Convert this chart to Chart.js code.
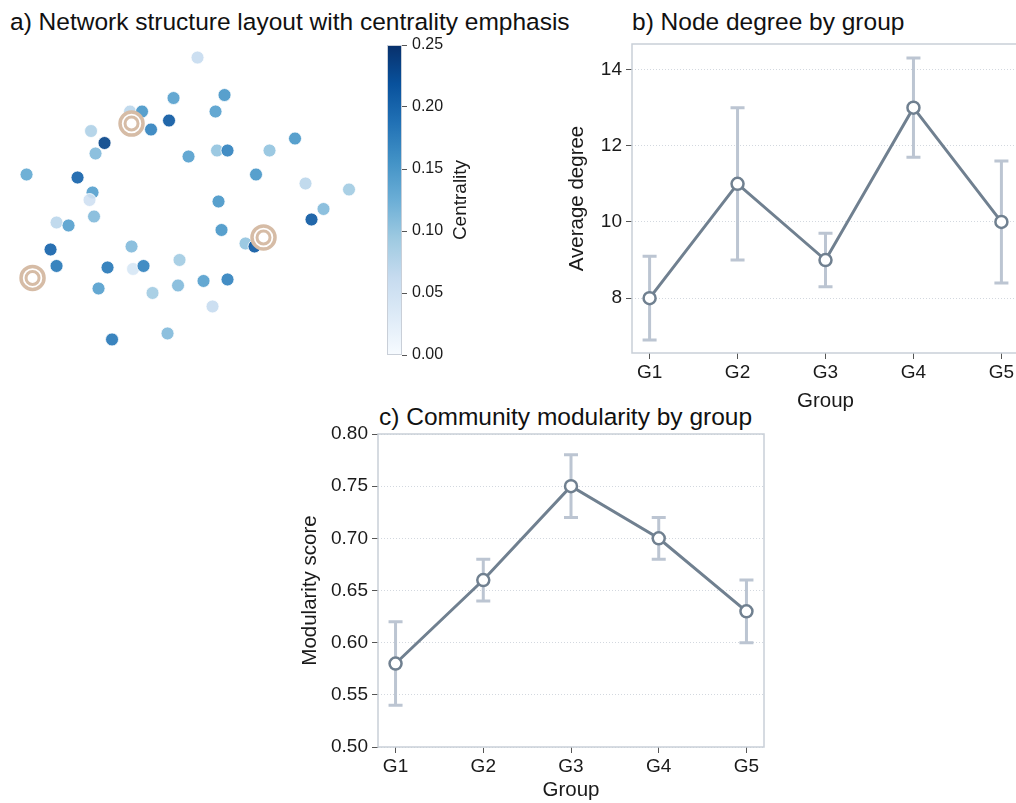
<!DOCTYPE html>
<html>
<head>
<meta charset="utf-8">
<script src="https://cdn.jsdelivr.net/npm/chart.js@4.4.0/dist/chart.umd.min.js"></script>
<style>
  html, body { margin: 0; padding: 0; background: #fff; width: 1016px; height: 803px; overflow: hidden; }
  .box { position: absolute; }
  .ttl { position: absolute; font: 24.5px "Liberation Sans", Arial, sans-serif; line-height: 24px; color: #111; white-space: nowrap; }
</style>
</head>
<body>
<div class="ttl" style="left:10px;top:10px">a) Network structure layout with centrality emphasis</div>
<div class="ttl" style="left:632px;top:10px">b) Node degree by group</div>
<div class="ttl" style="left:379px;top:405px">c) Community modularity by group</div>

<div class="box" style="left:0;top:0"><canvas id="net" width="370" height="380"></canvas></div>
<div class="box" style="left:380px;top:0"><canvas id="cbar" width="110" height="380"></canvas></div>
<div class="box" style="left:560px;top:40px"><canvas id="degree" width="470" height="380"></canvas></div>
<div class="box" style="left:290px;top:420px"><canvas id="modularity" width="490" height="383"></canvas></div>

<script>
(function () {

  // network layout (node positions + centrality)
  const nodeX = [0.05, -0.11, -0.40, -0.32, -0.26, -0.14, -0.66, -0.57, -0.63, -0.01,
                 -1.09, -0.75, -0.65, -0.67, 0.23, 0.17, 0.70, 0.18, 0.25, 0.53,
                 0.44, 0.77, 1.06, 0.19, -0.64, -0.89, -0.81, -0.93, -0.89, -0.55,
                 -0.39, -0.38, -0.31, -0.07, -0.08, -0.25, -0.61, 0.09, 0.25, 0.15,
                 -0.52, -0.15, 0.89, 0.81, 0.21, 0.37, 0.43];
  const nodeY = [0.95, 0.68, 0.59, 0.59, 0.47, 0.53, 0.46, 0.38, 0.31, 0.29,
                 0.17, 0.15, 0.05, 0.00, 0.70, 0.59, 0.41, 0.33, 0.33, 0.33,
                 0.17, 0.11, 0.07, -0.01, -0.11, -0.15, -0.17, -0.33, -0.44, -0.45,
                 -0.31, -0.46, -0.44, -0.40, -0.57, -0.62, -0.59, -0.54, -0.53, -0.71,
                 -0.93, -0.89, -0.06, -0.13, -0.20, -0.29, -0.31];
  const centrality = [0.06, 0.14, 0.07, 0.15, 0.17, 0.21, 0.08, 0.23, 0.11, 0.14,
                      0.13, 0.20, 0.14, 0.05, 0.15, 0.14, 0.15, 0.10, 0.17, 0.10,
                      0.15, 0.07, 0.09, 0.15, 0.11, 0.07, 0.14, 0.20, 0.18, 0.18,
                      0.11, 0.04, 0.17, 0.09, 0.11, 0.09, 0.14, 0.14, 0.17, 0.06,
                      0.18, 0.11, 0.11, 0.21, 0.15, 0.10, 0.21];
  const hubX = [-0.39, 0.49, -1.05];
  const hubY = [0.51, -0.25, -0.52];

  const cbarTicks = [0, 0.05, 0.10, 0.15, 0.20, 0.25];

  // group panels
  const groups = ['G1', 'G2', 'G3', 'G4', 'G5'];
  const degreeMean = [8, 11, 9, 13, 10];
  const degreeLow  = [6.9, 9.0, 8.3, 11.7, 8.4];
  const degreeHigh = [9.1, 13.0, 9.7, 14.3, 11.6];
  const degreeTicks = [8, 10, 12, 14];

  const modMean = [0.58, 0.66, 0.75, 0.70, 0.63];
  const modLow  = [0.54, 0.64, 0.72, 0.68, 0.60];
  const modHigh = [0.62, 0.68, 0.78, 0.72, 0.66];
  const modTicks = [0.50, 0.55, 0.60, 0.65, 0.70, 0.75, 0.80];

  const FONT = '"Liberation Sans", Arial, sans-serif';
  const INK = '#1a1a1a';
  const FRAME = '#c9cfd8';

  const BLUES = [[247,251,255],[222,235,247],[198,219,239],[158,202,225],[107,174,214],
                 [66,146,198],[33,113,181],[8,81,156],[8,48,107]];
  function blues(t, a) {
    t = Math.max(0, Math.min(1, t));
    const s = t * 8, i = Math.min(7, Math.floor(s)), f = s - i;
    const c = BLUES[i].map((v, k) => Math.round(v + (BLUES[i + 1][k] - v) * f));
    return `rgba(${c[0]},${c[1]},${c[2]},${a === undefined ? 1 : a})`;
  }

  // a) network scatter
  new Chart(document.getElementById('net'), {
    type: 'scatter',
    data: {
      datasets: [
        { data: hubX.map((x, i) => ({ x, y: hubY[i] })), pointRadius: 6.5,
          pointBackgroundColor: '#fff', pointBorderColor: '#d6bca6', pointBorderWidth: 3, clip: false },
        { data: hubX.map((x, i) => ({ x, y: hubY[i] })), pointRadius: 11.5,
          pointBackgroundColor: '#fff', pointBorderColor: '#d6bca6', pointBorderWidth: 3.5, clip: false },
        { data: nodeX.map((x, i) => ({ x, y: nodeY[i] })), pointRadius: 6.5,
          pointBackgroundColor: centrality.map(c => blues(c / 0.25, 0.92)),
          pointBorderColor: '#fff', pointBorderWidth: 0.8, clip: false }
      ]
    },
    options: {
      responsive: false, animation: false,
      layout: { autoPadding: false, padding: { top: 40, bottom: 20, left: 0, right: 0 } },
      scales: {
        x: { display: false, min: -1.267, max: 1.2 },
        y: { display: false, min: -1.067, max: 1.067 }
      },
      plugins: { legend: { display: false }, tooltip: { enabled: false } }
    }
  });

  // colorbar
  new Chart(document.getElementById('cbar'), {
    type: 'scatter',
    data: { datasets: [] },
    options: {
      responsive: false, animation: false,
      layout: { autoPadding: false, padding: { top: 45, bottom: 25, left: 7, right: 0 } },
      scales: {
        x: { display: false, min: 0, max: 1 },
        y: {
          position: 'right', min: 0, max: 0.25,
          afterBuildTicks: s => { s.ticks = cbarTicks.map(v => ({ value: v })); },
          afterFit: s => { s.width = 88; s.paddingTop = 0; s.paddingBottom = 0; },
          ticks: { callback: v => v.toFixed(2), font: { family: FONT, size: 16 }, color: INK, padding: 5 },
          grid: { drawOnChartArea: false, tickLength: 5, tickColor: '#555', tickWidth: 1 },
          border: { display: false }
        }
      },
      plugins: { legend: { display: false }, tooltip: { enabled: false } }
    },
    plugins: [{
      id: 'gradient',
      beforeDatasetsDraw(chart) {
        const { ctx, chartArea: a } = chart;
        const g = ctx.createLinearGradient(0, a.bottom, 0, a.top);
        BLUES.forEach((c, i) => g.addColorStop(i / 8, `rgb(${c[0]},${c[1]},${c[2]})`));
        ctx.save();
        ctx.fillStyle = g;
        ctx.fillRect(a.left, a.top, a.right - a.left, a.bottom - a.top);
        ctx.strokeStyle = FRAME;
        ctx.lineWidth = 1;
        ctx.strokeRect(a.left + 0.5, a.top + 0.5, a.right - a.left - 1, a.bottom - a.top - 1);
        ctx.translate(81, (a.top + a.bottom) / 2);
        ctx.rotate(-Math.PI / 2);
        ctx.font = '19px ' + FONT;
        ctx.fillStyle = INK;
        ctx.textAlign = 'center';
        ctx.textBaseline = 'middle';
        ctx.fillText('Centrality', 0, 0);
        ctx.restore();
      }
    }]
  });

  // b) and c) line charts with error bars
  function groupChart(id, mean, low, high, yMin, yMax, yTicks, dec, yTitle, L) {
    new Chart(document.getElementById(id), {
      type: 'line',
      data: {
        datasets: [{
          data: mean.map((v, i) => ({ x: i, y: v })),
          borderColor: '#708090', borderWidth: 3,
          pointRadius: 6, pointBackgroundColor: '#fff',
          pointBorderColor: '#708090', pointBorderWidth: 2.5,
          tension: 0, clip: false
        }]
      },
      options: {
        responsive: false, animation: false,
        layout: { autoPadding: false, padding: L.pad },
        scales: {
          x: {
            type: 'linear', min: -0.2, max: 4.2,
            afterBuildTicks: s => { s.ticks = groups.map((g, i) => ({ value: i })); },
            afterFit: s => { s.height = L.xh; s.paddingLeft = 0; s.paddingRight = 0; },
            ticks: { callback: v => groups[v], font: { family: FONT, size: 19 }, color: INK, padding: 2, maxRotation: 0 },
            grid: { drawOnChartArea: false, tickLength: 6, tickColor: '#555', tickWidth: 1 },
            border: { display: false },
            title: { display: true, text: 'Group', font: { family: FONT, size: 20.5 }, color: INK,
                     padding: { top: 0, bottom: L.xtp } }
          },
          y: {
            min: yMin, max: yMax,
            afterBuildTicks: s => { s.ticks = yTicks.map(v => ({ value: v })); },
            afterFit: s => { s.width = L.yw; s.paddingTop = 0; s.paddingBottom = 0; },
            ticks: { callback: v => v.toFixed(dec), font: { family: FONT, size: 19 }, color: INK, padding: 4 },
            grid: { color: '#d3d8df', lineWidth: 1, tickLength: 6, tickColor: '#555', tickWidth: 1, tickBorderDash: [] },
            border: { display: false, dash: [1, 2] },
            title: { display: true, text: yTitle, font: { family: FONT, size: 20.5 }, color: INK,
                     padding: { top: L.ytp, bottom: 0 } }
          }
        },
        plugins: { legend: { display: false }, tooltip: { enabled: false } }
      },
      plugins: [{
        id: 'errorBars',
        beforeDatasetsDraw(chart) {
          const { ctx, chartArea: a, scales: { x, y } } = chart;
          ctx.save();
          ctx.strokeStyle = FRAME;
          ctx.lineWidth = 1.5;
          ctx.strokeRect(a.left, a.top, a.right - a.left, a.bottom - a.top);
          ctx.strokeStyle = '#bcc5d2';
          ctx.lineWidth = 3;
          mean.forEach((v, i) => {
            const px = x.getPixelForValue(i);
            const y0 = y.getPixelForValue(low[i]), y1 = y.getPixelForValue(high[i]);
            ctx.beginPath();
            ctx.moveTo(px, y0); ctx.lineTo(px, y1);
            ctx.moveTo(px - 7, y0); ctx.lineTo(px + 7, y0);
            ctx.moveTo(px - 7, y1); ctx.lineTo(px + 7, y1);
            ctx.stroke();
          });
          ctx.restore();
        }
      }]
    });
  }

  groupChart('degree', degreeMean, degreeLow, degreeHigh, 6.56, 14.67, degreeTicks, 0, 'Average degree',
    { pad: { top: 4, left: 0, right: 11, bottom: 0 }, xh: 67, yw: 72, xtp: 6, ytp: 5 });
  groupChart('modularity', modMean, modLow, modHigh, 0.5, 0.8, modTicks, 2, 'Modularity score',
    { pad: { top: 14, left: 0, right: 16, bottom: 0 }, xh: 56, yw: 88, xtp: 0, ytp: 8 });

})();
</script>
</body>
</html>
